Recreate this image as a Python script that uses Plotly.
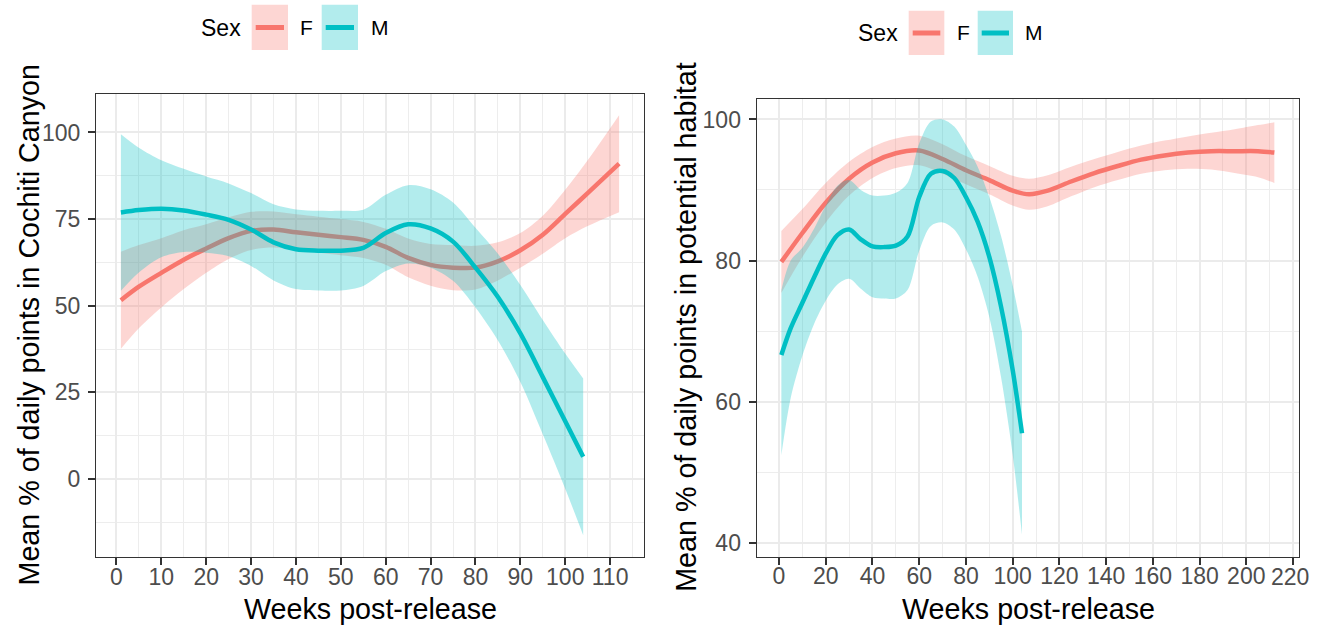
import plotly.graph_objects as go

# ---- Cochiti Canyon panel (left) ----
cc_f_weeks = [1, 5, 10, 15, 20, 25, 30, 35, 40, 45, 50, 55, 60, 65, 70, 75, 80, 85, 90, 95, 100, 105, 112]
cc_f_fit = [51.6, 55.5, 59.5, 63.3, 66.5, 69.5, 71.6, 72.0, 71.2, 70.5, 69.8, 69.0, 67.0, 63.8, 61.8, 61.0, 61.0, 62.8, 66.0, 70.5, 76.5, 82.5, 91.0]
cc_f_lo = [37.6, 43.5, 49.5, 54.8, 59.5, 63.5, 66.1, 66.8, 66.0, 65.3, 64.6, 63.8, 61.8, 58.2, 55.8, 54.5, 54.7, 57.3, 61.0, 65.0, 69.5, 73.0, 77.0]
cc_f_hi = [65.6, 67.5, 69.5, 71.8, 73.5, 75.5, 77.1, 77.2, 76.4, 75.7, 75.0, 74.2, 72.2, 69.4, 67.8, 67.5, 67.3, 68.3, 71.0, 76.0, 83.5, 92.0, 105.0]

cc_m_weeks = [1, 5, 10, 15, 20, 25, 30, 35, 40, 45, 50, 55, 60, 65, 70, 75, 80, 85, 90, 95, 100, 104]
cc_m_fit = [76.9, 77.6, 78.0, 77.5, 76.3, 74.8, 72.0, 68.3, 66.3, 65.9, 65.9, 66.7, 71.0, 73.5, 72.3, 68.5, 61.0, 52.5, 42.0, 29.4, 16.7, 6.4]
cc_m_lo = [54.3, 59.6, 64.0, 65.5, 65.3, 64.3, 61.5, 57.3, 54.8, 54.4, 54.4, 55.7, 60.0, 62.2, 61.0, 57.2, 49.5, 40.0, 28.0, 12.9, -2.8, -16.2]
cc_m_hi = [99.5, 95.6, 92.0, 89.5, 87.3, 85.3, 82.5, 79.3, 77.8, 77.4, 77.4, 77.7, 82.0, 84.8, 83.6, 79.8, 72.5, 65.0, 56.0, 45.9, 36.2, 29.0]

# ---- Potential habitat panel (right) ----
ph_f_weeks = [1, 10, 20, 30, 40, 50, 60, 70, 80, 90, 100, 107, 115, 125, 135, 145, 155, 165, 175, 185, 195, 205, 212]
ph_f_fit = [79.8, 83.9, 88.2, 91.6, 93.9, 95.2, 95.6, 94.4, 92.8, 91.4, 89.9, 89.4, 89.9, 91.2, 92.4, 93.4, 94.3, 94.9, 95.3, 95.5, 95.5, 95.5, 95.3]
ph_f_lo = [75.4, 80.5, 85.4, 89.2, 91.7, 93.1, 93.5, 92.3, 90.8, 89.4, 87.8, 87.2, 87.7, 89.1, 90.4, 91.4, 92.3, 92.8, 93.0, 92.9, 92.4, 91.8, 91.0]
ph_f_hi = [84.2, 87.3, 91.0, 94.0, 96.1, 97.3, 97.7, 96.5, 94.8, 93.4, 92.0, 91.6, 92.1, 93.3, 94.4, 95.4, 96.3, 97.0, 97.6, 98.1, 98.6, 99.2, 99.6]

ph_m_weeks = [1, 5, 10, 15, 20, 25, 30, 35, 40, 45, 50, 55, 60, 65, 70, 75, 80, 85, 90, 95, 100, 104]
ph_m_fit = [66.6, 70.4, 74.0, 77.6, 81.0, 83.6, 84.4, 83.0, 82.0, 81.9, 82.1, 83.4, 89.0, 92.3, 92.7, 91.7, 89.0, 85.5, 80.5, 73.5, 64.5, 55.5]
ph_m_lo = [52.4, 60.5, 66.5, 71.0, 74.3, 76.6, 77.4, 76.0, 74.8, 74.6, 74.6, 75.8, 81.4, 84.9, 85.4, 84.4, 81.6, 77.7, 72.0, 63.5, 52.5, 41.1]
ph_m_hi = [75.8, 80.0, 81.8, 84.5, 87.8, 90.6, 91.4, 90.0, 89.2, 89.2, 89.6, 91.0, 96.6, 99.7, 100.0, 99.0, 96.4, 93.3, 89.0, 83.5, 76.5, 69.9]

# week ticks of the right panel
ph_week_ticks = [0, 20, 40, 60, 80, 100, 120, 140, 160, 180, 200, 220]

line_colors = {"F": "#F8766D", "M": "#00BFC4"}
band_colors = {"F": "rgba(248,118,109,0.3)", "M": "rgba(0,191,196,0.3)"}

# drawing width of the page (window minus its vertical scrollbar)
W, H = 1310, 625
FONT = "Liberation Sans, Arial, sans-serif"


def px(x):
    return x / W


def py(y):
    return 1 - y / H


fig = go.Figure()


def add_smooth(weeks, fit, lo, hi, sex, xa, ya):
    # confidence ribbon: lower edge, then upper edge filled down to it
    fig.add_trace(go.Scatter(
        x=weeks, y=lo, mode="lines", line=dict(width=0, shape="spline", smoothing=0.9),
        hoverinfo="skip", showlegend=False, xaxis=xa, yaxis=ya))
    fig.add_trace(go.Scatter(
        x=weeks, y=hi, mode="lines", fill="tonexty", fillcolor=band_colors[sex],
        line=dict(width=0, shape="spline", smoothing=0.9),
        hoverinfo="skip", showlegend=False, xaxis=xa, yaxis=ya))
    # smoothed mean
    fig.add_trace(go.Scatter(
        x=weeks, y=fit, mode="lines", name=sex,
        line=dict(color=line_colors[sex], width=4.5, shape="spline", smoothing=0.9),
        showlegend=False, xaxis=xa, yaxis=ya))


add_smooth(cc_f_weeks, cc_f_fit, cc_f_lo, cc_f_hi, "F", "x", "y")
add_smooth(cc_m_weeks, cc_m_fit, cc_m_lo, cc_m_hi, "M", "x", "y")
add_smooth(ph_f_weeks, ph_f_fit, ph_f_lo, ph_f_hi, "F", "x2", "y2")
add_smooth(ph_m_weeks, ph_m_fit, ph_m_lo, ph_m_hi, "M", "x2", "y2")

tick_font = dict(family=FONT, size=23, color="#4D4D4D")
axis_common = dict(
    showline=True, mirror=True, linecolor="#333333", linewidth=1.3,
    showgrid=True, gridcolor="#EBEBEB", gridwidth=1.6, zeroline=False,
    ticks="outside", ticklen=7, tickwidth=1.5, tickcolor="#333333",
    tickfont=tick_font,
)
minor_grid = dict(showgrid=True, gridcolor="#EDEDED", gridwidth=1.0, ticks="")

# the last right-panel week label sits at the page edge; it is written separately below
ph_tick_text = [str(t) for t in ph_week_ticks[:-1]] + [""]

fig.update_layout(
    width=W, height=H, autosize=False,
    margin=dict(l=0, r=0, t=0, b=0),
    paper_bgcolor="white", plot_bgcolor="white",
    showlegend=False,
    xaxis=dict(domain=[px(96), px(644)], range=[-4.55, 117.55], dtick=10, tick0=0,
               minor=dict(dtick=5, tick0=0, **minor_grid), ticklabelstandoff=-8,
               anchor="y", **axis_common),
    yaxis=dict(domain=[py(557), py(94)], range=[-22.5, 111.1], dtick=25, tick0=0,
               minor=dict(dtick=12.5, tick0=0, **minor_grid), ticklabelstandoff=3,
               anchor="x", **axis_common),
    xaxis2=dict(domain=[px(756.7), px(1299)], range=[-9.55, 222.55],
                tickmode="array", tickvals=ph_week_ticks, ticktext=ph_tick_text,
                minor=dict(dtick=10, tick0=0, **minor_grid), ticklabelstandoff=-8,
                anchor="y2", **axis_common),
    yaxis2=dict(domain=[py(556.7), py(99)], range=[38.0, 102.9], dtick=20, tick0=0,
                minor=dict(dtick=10, tick0=0, **minor_grid), ticklabelstandoff=3,
                anchor="x2", **axis_common),
)

annotations = []
shapes = []

# label of the last right-panel tick, kept inside the page
annotations.append(dict(text=str(ph_week_ticks[-1]), x=ph_week_ticks[-1], xref="x2",
                        y=py(577), yref="paper", xshift=-3.5, showarrow=False,
                        font=tick_font, xanchor="center", yanchor="middle", borderpad=0))

# axis titles
title_font = dict(family=FONT, size=28.7, color="black")
annotations += [
    dict(text="Weeks post-release", x=px(370), y=py(609), xref="paper", yref="paper",
         showarrow=False, font=title_font, xanchor="center", yanchor="middle"),
    dict(text="Weeks post-release", x=px(1028), y=py(609), xref="paper", yref="paper",
         showarrow=False, font=title_font, xanchor="center", yanchor="middle"),
    dict(text="Mean % of daily points in Cochiti Canyon", x=px(28), y=py(325.5), xref="paper",
         yref="paper", showarrow=False, font=title_font, textangle=-90,
         xanchor="center", yanchor="middle"),
    dict(text="Mean % of daily points in potential habitat", x=px(686), y=py(327.8), xref="paper",
         yref="paper", showarrow=False, font=title_font, textangle=-90,
         xanchor="center", yanchor="middle"),
]


# legends above each panel
def add_legend(title_cx, cy, f_box, m_box, f_text_x, m_text_x, top, bottom):
    annotations.append(dict(text="Sex", x=px(title_cx), y=py(cy), xref="paper", yref="paper",
                            showarrow=False, font=dict(family=FONT, size=23, color="black"),
                            xanchor="center", yanchor="middle"))
    for sex, (x0, x1), tx in (("F", f_box, f_text_x), ("M", m_box, m_text_x)):
        shapes.append(dict(type="rect", xref="paper", yref="paper",
                           x0=px(x0), x1=px(x1), y0=py(bottom), y1=py(top),
                           fillcolor=band_colors[sex], line=dict(width=0)))
        shapes.append(dict(type="line", xref="paper", yref="paper",
                           x0=px(x0 + 4), x1=px(x1 - 4), y0=py(cy), y1=py(cy),
                           line=dict(color=line_colors[sex], width=5)))
        annotations.append(dict(text=sex, x=px(tx), y=py(cy), xref="paper", yref="paper",
                                showarrow=False, font=dict(family=FONT, size=21, color="black"),
                                xanchor="left", yanchor="middle"))


add_legend(220.5, 27.5, (251.7, 288), (321.7, 358), 298, 369, 4.7, 50)
add_legend(878.3, 33, (908.7, 944.3), (977.7, 1013), 954.7, 1023, 10.7, 55)

fig.update_layout(annotations=annotations, shapes=shapes)

fig.write_html("out.html", config={"responsive": False})
